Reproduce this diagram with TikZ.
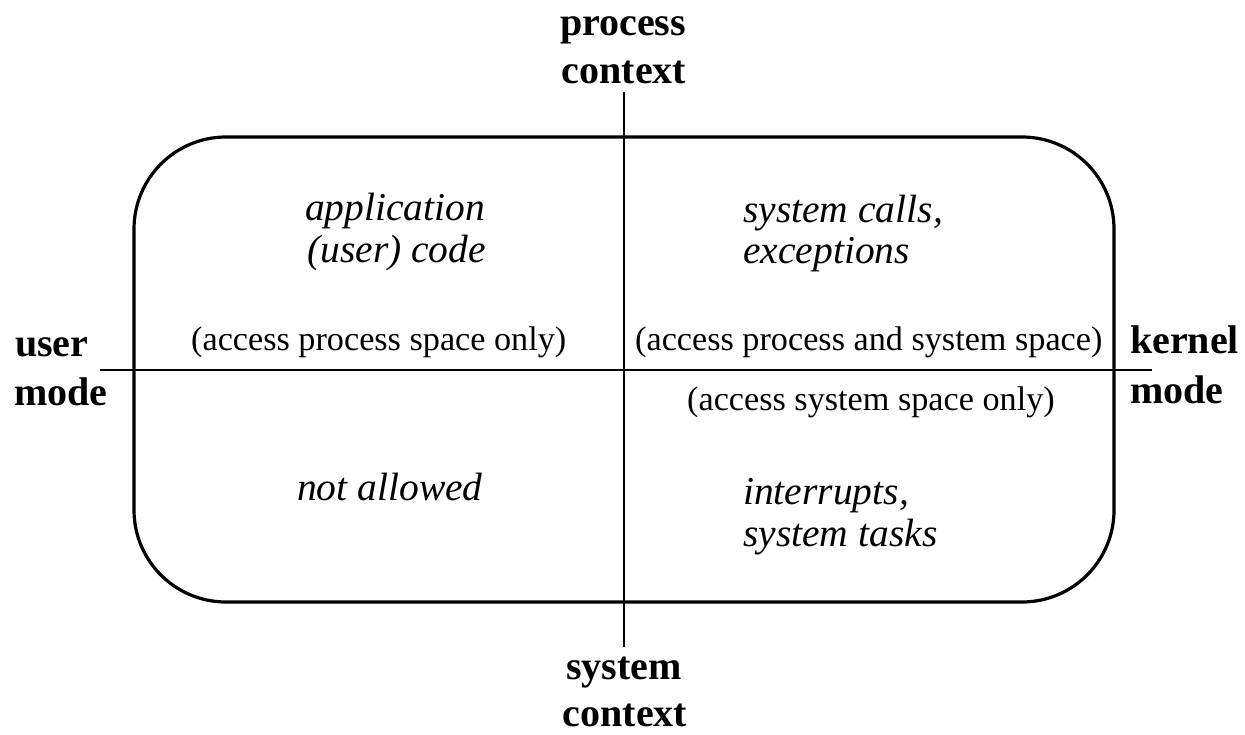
\documentclass[tikz,border=0pt]{standalone}
\usepackage{fontspec}
\setmainfont{Liberation Serif}
\begin{document}
\begin{tikzpicture}[x=1pt,y=-1pt,
  axislbl/.style={inner sep=0pt, font=\fontsize{40}{48}\selectfont\bfseries},
  quadtxt/.style={inner sep=0pt, anchor=base west, font=\fontsize{39.5}{42}\selectfont\itshape},
  acctxt/.style={inner sep=0pt, anchor=base west, font=\fontsize{34.2}{41}\selectfont},
  axisline/.style={line width=2.8pt},
  frame/.style={line width=3.2pt, rounded corners=92pt}]
\useasboundingbox (0,0) rectangle (1245,734);

% rounded frame
\draw[frame] (134,137) rectangle (1114,602);

% axes
\coordinate (vtop) at (624,92);
\coordinate (vbot) at (624,647);
\coordinate (hleft) at (100,370);
\coordinate (hright) at (1152,370);
\draw[axisline] (vtop) -- (vbot);
\draw[axisline] (hleft) -- (hright);

% axis labels
\node[axislbl, anchor=base] (pc1) at (623,35) {process};
\node[axislbl, anchor=base] (pc2) at (624,83) {context};
\node[axislbl, anchor=base] (sc1) at (624,679) {system};
\node[axislbl, anchor=base] (sc2) at (625,726) {context};
\node[axislbl, anchor=base west] (um1) at (15,356) {user};
\node[axislbl, anchor=base west] (um2) at (14,405) {mode};
\node[axislbl, anchor=base west] (km1) at (1130,353) {kernel};
\node[axislbl, anchor=base west] (km2) at (1130,403) {mode};

% quadrant contents
\node[quadtxt] (app1) at (305,220) {application};
\node[quadtxt] (app2) at (307,262) {(user) code};
\node[quadtxt] (sys1) at (743,222) {system calls,};
\node[quadtxt] (sys2) at (743,263) {exceptions};
\node[quadtxt] (na) at (297,500) {not allowed};
\node[quadtxt] (int1) at (743,504) {interrupts,};
\node[quadtxt] (int2) at (743,546) {system tasks};

% access notes
\node[acctxt] (acc1) at (191,350) {(access process space only)};
\node[acctxt] (acc2) at (635,350) {(access process and system space)};
\node[acctxt] (acc3) at (687,410) {(access system space only)};
\end{tikzpicture}
\end{document}
